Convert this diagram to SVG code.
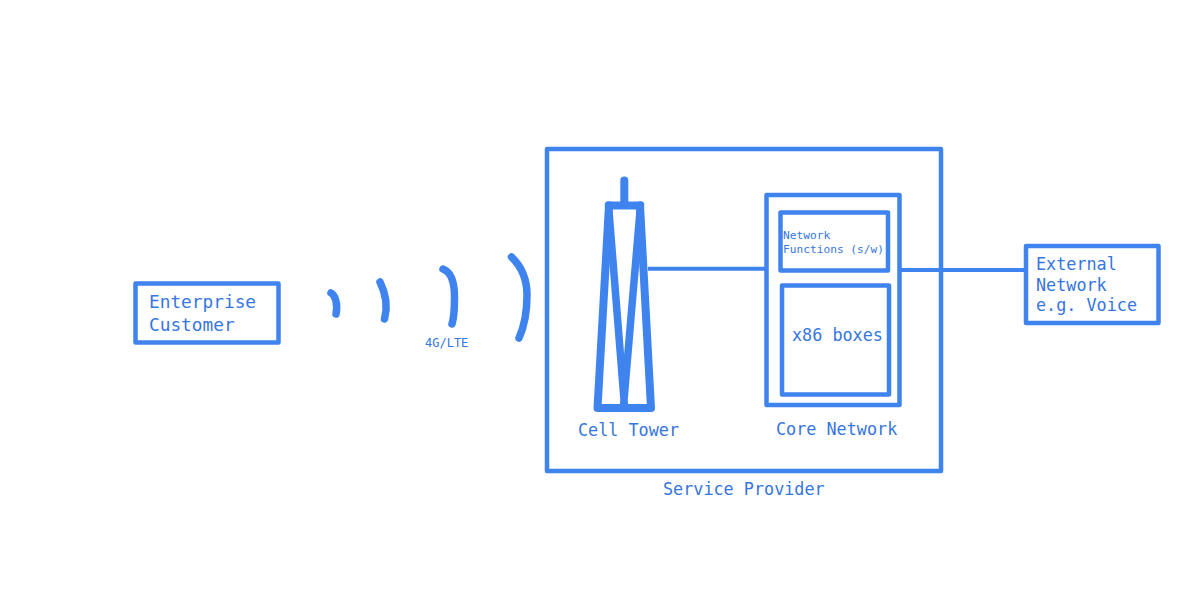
<svg xmlns="http://www.w3.org/2000/svg" width="1200" height="600" viewBox="0 0 1200 600">
<style>
.b{fill:none;stroke:#3f83ee;stroke-width:4.500;stroke-linejoin:round}
.c{fill:none;stroke:#3f83ee;stroke-width:4}
.a{fill:none;stroke:#3f83ee;stroke-width:7.500;stroke-linecap:round}
.t{fill:none;stroke:#3f83ee;stroke-width:8;stroke-linejoin:round;stroke-linecap:round}
text{font-family:"DejaVu Sans Mono","Liberation Mono",monospace;fill:#3676e0;font-size:16.8px}
</style>
<rect width="1200" height="600" fill="#fff"/>
<g id="connectors">
<line class="c" x1="648" y1="268.700" x2="766" y2="268.700"/>
<line class="c" x1="900" y1="270" x2="1026" y2="270"/>
</g>
<g id="enterprise-customer">
<rect class="b" x="135.500" y="283.500" width="143" height="59"/>
<text x="149" y="308" style="font-size:17.800px">Enterprise</text>
<text x="149" y="330.700" style="font-size:17.800px">Customer</text>
</g>
<g id="signal">
<path class="a" d="M331 293C335 295 338 303 336 314"/>
<path class="a" d="M380 282C385 292 388 306 384.500 319"/>
<path class="a" d="M443 269C451 272 454.500 283 454.500 297C454.500 308 454 318 452 324"/>
<path class="a" d="M511.500 257C522 267 527 279 527 295C527 313 524 327 519 338"/>
<text x="425" y="346.700" style="font-size:12px">4G/LTE</text>
</g>
<g id="service-provider">
<rect class="b" x="547" y="149" width="394" height="322"/>
<text x="663" y="495">Service Provider</text>
</g>
<g id="cell-tower">
<line class="t" x1="624.300" y1="180.500" x2="624.300" y2="204"/>
<path class="t" d="M609 205.500H640L651 408H597.500Z"/>
<path class="t" d="M608.500 205L624.500 406M640.500 205L623.500 406" style="stroke-width:7.500"/>
<text x="578" y="435.700">Cell Tower</text>
</g>
<g id="core-network">
<rect class="b" x="766.500" y="195" width="133" height="210"/>
<text x="776" y="435">Core Network</text>
</g>
<g id="network-functions">
<rect class="b" x="780.500" y="212.500" width="107.500" height="58"/>
<text x="783" y="239.300" style="font-size:11.200px">Network</text>
<text x="783" y="253.300" style="font-size:11.200px">Functions (s/w)</text>
</g>
<g id="x86-boxes">
<rect class="b" x="782" y="285.500" width="107" height="109"/>
<text x="792" y="341">x86 boxes</text>
</g>
<g id="external-network">
<rect class="b" x="1026" y="246" width="132.500" height="77"/>
<text x="1036" y="270">External</text>
<text x="1036" y="290.500">Network</text>
<text x="1036" y="311">e.g. Voice</text>
</g>
</svg>
